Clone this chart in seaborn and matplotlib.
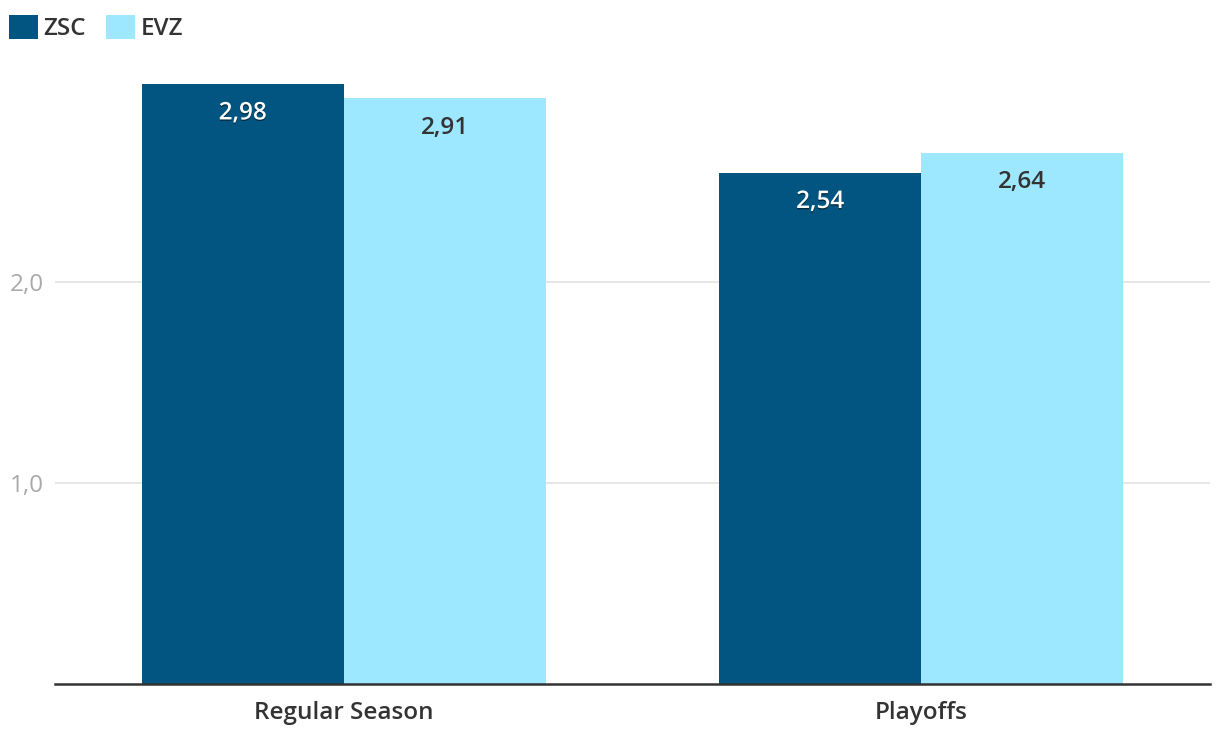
import pandas as pd
import seaborn as sns
import matplotlib.pyplot as plt
import matplotlib.patheffects as pe
from matplotlib.patches import Patch

# data
categories = ["Regular Season", "Playoffs"]
teams = ["ZSC", "EVZ"]
zsc_values = [2.98, 2.54]
evz_values = [2.91, 2.64]
y_ticks = [1.0, 2.0]
y_tick_labels = ["1,0", "2,0"]

df = pd.DataFrame({
    "phase": categories * 2,
    "team": [teams[0]] * 2 + [teams[1]] * 2,
    "value": zsc_values + evz_values,
})

colors = {"ZSC": "#015580", "EVZ": "#9de7ff"}
text_dark = "#333333"
fs = 17.5

sns.set_theme(style="white")
plt.rcParams['font.family'] = ['Open Sans', 'DejaVu Sans']

fig = plt.figure(figsize=(12.2, 7.48), dpi=100)
ax = fig.add_axes([55 / 1220, 64 / 748, 1155 / 1220, 644 / 748])

sns.barplot(data=df, x="phase", y="value", hue="team", palette=colors,
            order=categories, hue_order=teams, width=0.7, saturation=1,
            linewidth=0, edgecolor="none",
            legend=False, ax=ax, zorder=3)

ax.set_ylim(0, 3.2)
ax.set_xlim(-0.5, 1.5)
ax.set_yticks(y_ticks)
ax.set_yticklabels(y_tick_labels)
ax.yaxis.grid(True, color="#e3e3e3", linewidth=1.2, zorder=0)
ax.tick_params(axis="y", length=0, labelsize=fs, labelcolor="#aaaaaa", pad=8)
ax.tick_params(axis="x", length=0, labelsize=fs, labelcolor=text_dark, pad=12)
for lab in ax.get_xticklabels():
    lab.set_fontweight("semibold")
ax.set_xlabel("")
ax.set_ylabel("")
for side in ["top", "right", "left"]:
    ax.spines[side].set_visible(False)
ax.spines["bottom"].set_color(text_dark)
ax.spines["bottom"].set_linewidth(1.8)
ax.spines["bottom"].set_zorder(4)

# value labels inside the top of each bar
for container, team in zip(ax.containers, teams):
    for bar in container:
        h = bar.get_height()
        x = bar.get_x() + bar.get_width() / 2
        if team == "ZSC":
            t = ax.annotate(f"{h:.2f}".replace(".", ","), (x, h),
                            xytext=(0, -21), textcoords="offset points",
                            ha="center", va="center", fontsize=fs,
                            fontweight="semibold", color="white", zorder=5)
            t.set_path_effects([pe.withSimplePatchShadow(offset=(0, -1), shadow_rgbFace="black", alpha=0.5)])
        else:
            ax.annotate(f"{h:.2f}".replace(".", ","), (x, h),
                        xytext=(0, -21), textcoords="offset points",
                        ha="center", va="center", fontsize=fs,
                        fontweight="semibold", color=text_dark, zorder=5)

handles = [Patch(facecolor=colors[t], edgecolor="none") for t in teams]
leg = fig.legend(handles, teams, loc="upper left",
                 bbox_to_anchor=(0.0, 1.0 - 6 / 748),
                 ncol=2, frameon=False, fontsize=fs, handlelength=1.2,
                 handleheight=1.2, handletextpad=0.25, columnspacing=0.8,
                 labelcolor=text_dark, borderaxespad=0.0, borderpad=0.35)
for txt in leg.get_texts():
    txt.set_fontweight("semibold")

fig.savefig("out.png", dpi=100, facecolor="white")
